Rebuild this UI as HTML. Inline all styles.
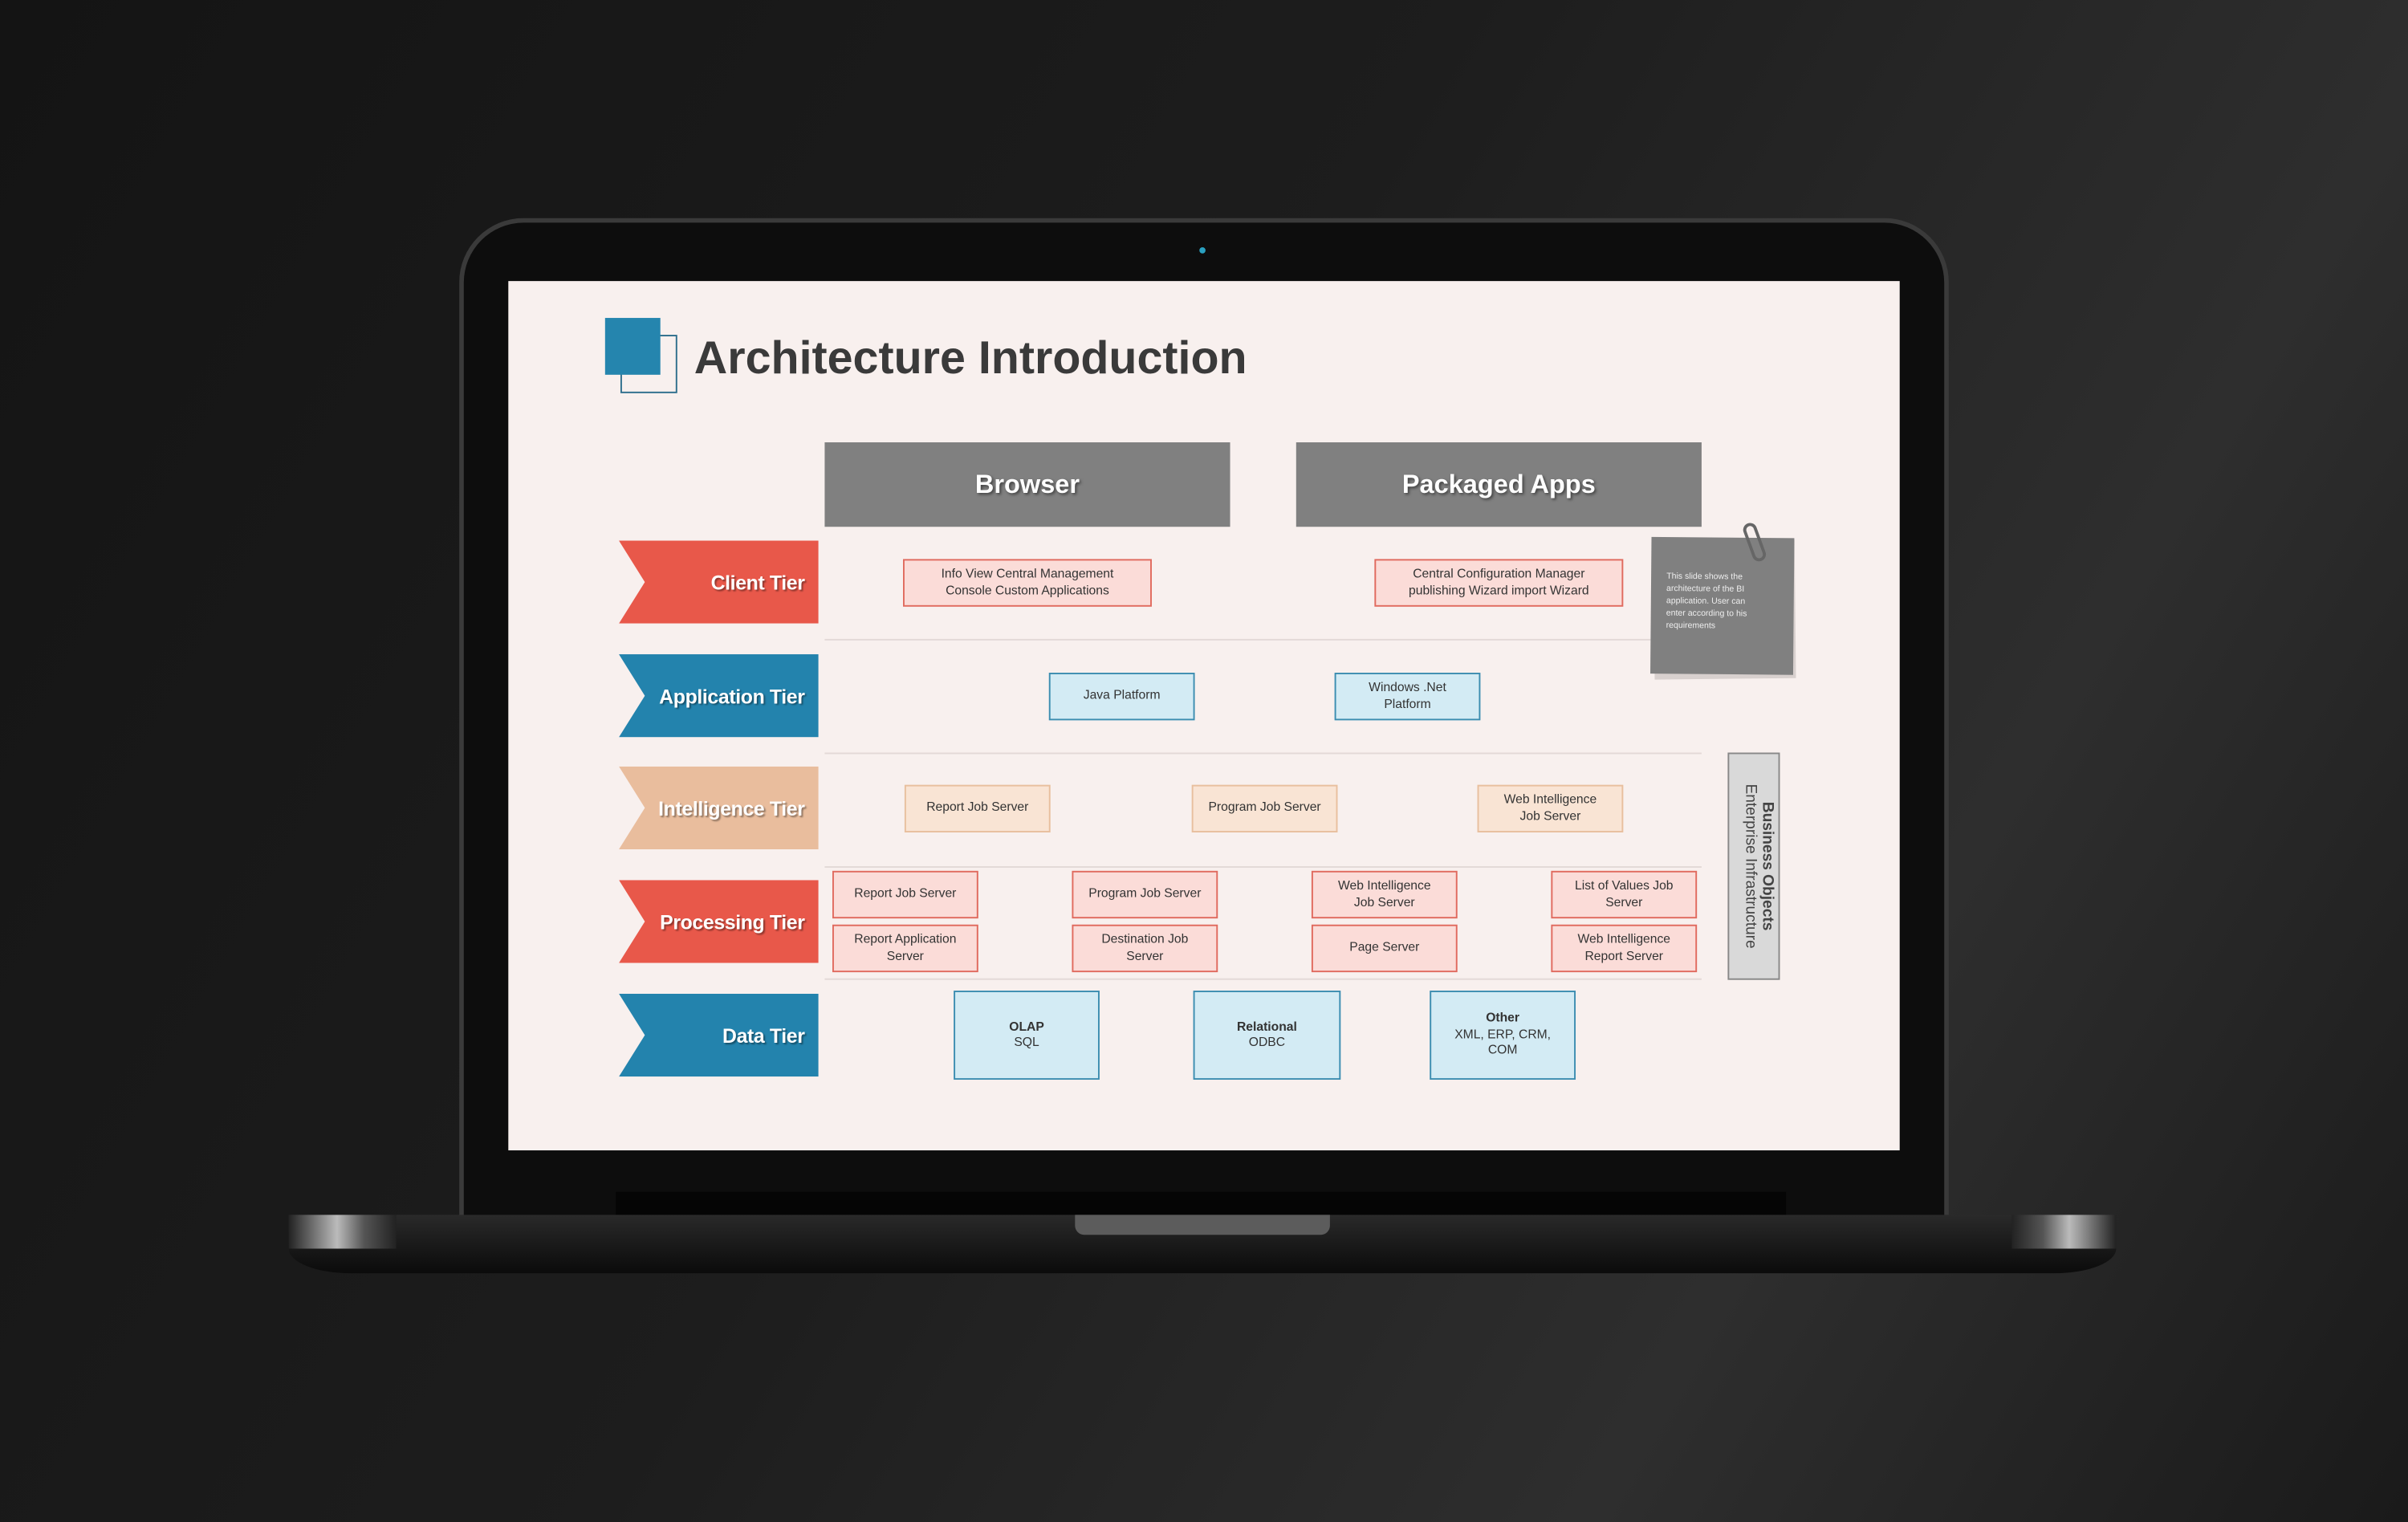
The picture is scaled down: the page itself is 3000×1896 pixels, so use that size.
<!DOCTYPE html>
<html><head><meta charset="utf-8">
<style>
html,body{margin:0;padding:0;width:3000px;height:1895px;overflow:hidden;background:#1c1c1c;}
#w{position:absolute;left:0;top:0;width:1568px;height:991px;transform:scale(1.91327);transform-origin:0 0;
background:linear-gradient(120deg,#141414 0%,#1d1d1d 45%,#2e2e2e 75%,#1a1a1a 100%);font-family:"Liberation Sans",sans-serif;overflow:hidden;}
.a{position:absolute;box-sizing:border-box;}
.bx{position:absolute;box-sizing:border-box;display:flex;align-items:center;justify-content:center;text-align:center;font-size:8.2px;line-height:10.5px;color:#333;}
.pk{background:#fbdcd8;border:1px solid #e06a5e;}
.bl{background:#d3ebf4;border:1px solid #3c8db0;}
.pe{background:#f9e4d4;border:1px solid #e8bf9e;}
.tier{position:absolute;left:403px;width:130px;height:54px;clip-path:polygon(0 0,100% 0,100% 100%,0 100%,13% 50%);color:#fff;font-weight:bold;font-size:13px;display:flex;align-items:center;justify-content:flex-end;padding-right:9px;box-sizing:border-box;text-shadow:1px 1px 1px rgba(0,0,0,.4);letter-spacing:-0.2px;}
.ln{position:absolute;left:537px;width:571px;height:1px;background:#e3d9d7;}
.hd{position:absolute;top:288px;width:264px;height:55px;background:#808080;color:#fff;font-weight:bold;font-size:17px;display:flex;align-items:center;justify-content:center;text-shadow:1px 1px 2px rgba(0,0,0,.5);}
</style></head><body><div id="w">
<div class="a" style="left:299px;top:142px;width:970px;height:660px;border-radius:42px 42px 0 0;background:#0d0d0d;border:3px solid #3a3a3a;border-bottom:none;"></div>
<div class="a" style="left:781px;top:161px;width:4px;height:4px;border-radius:50%;background:#2aa0c0;"></div>
<div class="a" style="left:401px;top:776px;width:762px;height:16px;background:#050505;"></div>
<div class="a" style="left:188px;top:791px;width:1190px;height:38px;background:linear-gradient(180deg,#2a2a2a 0%,#1a1a1a 50%,#0b0b0b 100%);border-radius:0 0 40px 40px/0 0 16px 16px;"></div>
<div class="a" style="left:188px;top:791px;width:70px;height:22px;background:linear-gradient(90deg,#222,#bbb 45%,#555 70%,#222);"></div>
<div class="a" style="left:1310px;top:791px;width:68px;height:22px;background:linear-gradient(90deg,#222,#555 30%,#bbb 55%,#222);"></div>
<div class="a" style="left:700px;top:791px;width:166px;height:13px;background:#5c5c5c;border-radius:0 0 6px 6px;"></div>
<div class="a" style="left:331px;top:183px;width:906px;height:566px;background:#f8f0ee;"></div>
<div class="a" style="left:404px;top:218px;width:37px;height:38px;border:1px solid #2d6e8c;background:#f8f0ee;"></div>
<div class="a" style="left:394px;top:207px;width:36px;height:37px;background:#2585ae;"></div>
<div class="a" style="left:452px;top:217px;font-size:30px;font-weight:bold;color:#3a3a3a;">Architecture Introduction</div>
<div class="hd" style="left:537px;">Browser</div>
<div class="hd" style="left:844px;">Packaged Apps</div>
<div class="tier" style="top:352px;background:#e8584a;">Client Tier</div>
<div class="tier" style="top:426px;background:#2383ad;">Application Tier</div>
<div class="tier" style="top:499px;background:#e9bd9d;">Intelligence Tier</div>
<div class="tier" style="top:573px;background:#e8584a;">Processing Tier</div>
<div class="tier" style="top:647px;background:#2383ad;">Data Tier</div>
<div class="ln" style="top:416px;"></div>
<div class="ln" style="top:490px;"></div>
<div class="ln" style="top:564px;"></div>
<div class="ln" style="top:637px;"></div>
<div class="bx pk" style="left:588px;top:364px;width:162px;height:31px;">Info View Central Management<br>Console Custom Applications</div>
<div class="bx pk" style="left:895px;top:364px;width:162px;height:31px;">Central Configuration Manager<br>publishing Wizard import Wizard</div>
<div class="bx bl" style="left:683px;top:438px;width:95px;height:31px;">Java Platform</div>
<div class="bx bl" style="left:869px;top:438px;width:95px;height:31px;">Windows .Net<br>Platform</div>
<div class="bx pe" style="left:589px;top:511px;width:95px;height:31px;">Report Job Server</div>
<div class="bx pe" style="left:776px;top:511px;width:95px;height:31px;">Program Job Server</div>
<div class="bx pe" style="left:962px;top:511px;width:95px;height:31px;">Web Intelligence<br>Job Server</div>
<div class="bx pk" style="left:542px;top:567px;width:95px;height:31px;">Report Job Server</div>
<div class="bx pk" style="left:698px;top:567px;width:95px;height:31px;">Program Job Server</div>
<div class="bx pk" style="left:854px;top:567px;width:95px;height:31px;">Web Intelligence<br>Job Server</div>
<div class="bx pk" style="left:1010px;top:567px;width:95px;height:31px;">List of Values Job<br>Server</div>
<div class="bx pk" style="left:542px;top:602px;width:95px;height:31px;">Report Application<br>Server</div>
<div class="bx pk" style="left:698px;top:602px;width:95px;height:31px;">Destination Job<br>Server</div>
<div class="bx pk" style="left:854px;top:602px;width:95px;height:31px;">Page Server</div>
<div class="bx pk" style="left:1010px;top:602px;width:95px;height:31px;">Web Intelligence<br>Report Server</div>
<div class="bx bl" style="left:621px;top:645px;width:95px;height:58px;"><div><b>OLAP</b><br>SQL</div></div>
<div class="bx bl" style="left:777px;top:645px;width:96px;height:58px;"><div><b>Relational</b><br>ODBC</div></div>
<div class="bx bl" style="left:931px;top:645px;width:95px;height:58px;"><div><b>Other</b><br>XML, ERP, CRM,<br>COM</div></div>
<div class="a" style="left:1077px;top:352px;width:92px;height:90px;background:#d8d0ce;transform:rotate(-0.6deg);"></div>
<div class="a" style="left:1075px;top:350px;width:93px;height:89px;background:#808080;transform:rotate(0.5deg);color:#eee;font-size:5.5px;line-height:8px;padding:22px 0 0 10px;">This slide shows the<br>architecture of the BI<br>application. User can<br>enter according to his<br>requirements</div>
<div class="a" style="left:1138px;top:340px;width:9px;height:26px;border:2px solid #666;border-radius:5px;transform:rotate(-20deg);"></div>
<div class="a" style="left:1125px;top:490px;width:34px;height:148px;background:#d9d9d9;border:1px solid #888;"></div>
<div class="a" style="left:1142px;top:564px;width:0;height:0;">
<div style="position:absolute;left:-74px;top:-14px;width:148px;height:28px;transform:rotate(90deg);text-align:center;font-size:10px;line-height:11px;color:#444;font-weight:bold;white-space:nowrap;">Business Objects<br><span style="font-weight:normal">Enterprise Infrastructure</span></div></div>
</div></body></html>
